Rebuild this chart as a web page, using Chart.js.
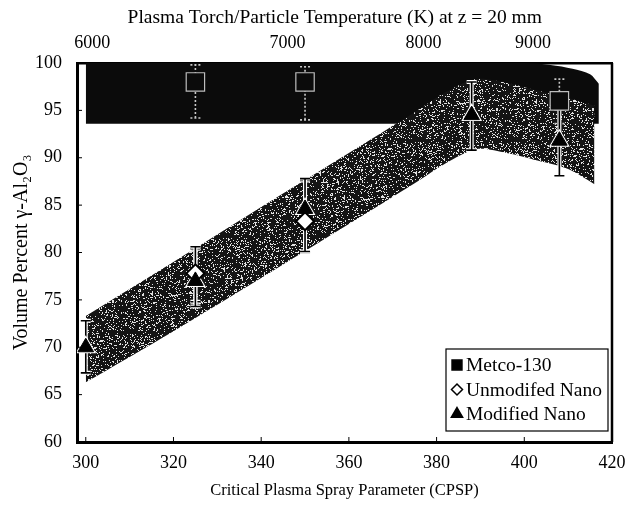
<!DOCTYPE html>
<html>
<head>
<meta charset="utf-8">
<script src="https://cdn.jsdelivr.net/npm/chart.js@4.4.0/dist/chart.umd.min.js"></script>
<style>
  html, body { margin: 0; padding: 0; background: #fff; }
  #wrap { width: 644px; height: 505px; }
</style>
</head>
<body>
<div id="wrap"><canvas id="chart" width="644" height="505"></canvas></div>
<script>
// measured points (CPSP, vol % gamma-Al2O3) with error bar ends
const metcoX = [325, 350, 408];
const metcoY = [98.0, 98.0, 96.0];
const metcoLo = [94.2, 94.0, 93.6];
const metcoHi = [99.8, 99.6, 98.3];

const unmodX = [325, 350];
const unmodY = [77.8, 83.3];
const unmodLo = [74.8, 80.0];
const unmodHi = [80.4, 87.6];

const modX = [300, 325, 350, 388, 408];
const modY = [70.0, 77.0, 84.6, 94.5, 91.8];
const modLo = [67.3, 74.3, 80.1, 90.8, 88.1];
const modHi = [72.8, 80.6, 87.8, 98.0, 95.2];

// shaded bands
const metcoBandX = [300, 400, 406, 411, 415, 417];
const metcoBandHi = [100, 100, 99.8, 99.4, 98.8, 97.8];
const metcoBandLo = [93.6, 93.6, 93.6, 93.6, 93.6, 93.6];

const nanoBandX = [300, 320, 340, 360, 375, 382, 389, 396, 403, 410, 416];
const nanoBandHi = [73.3, 79.0, 84.8, 90.5, 94.8, 96.9, 98.3, 97.9, 97.1, 96.3, 95.5];
const nanoBandLo = [66.3, 71.7, 77.3, 83.0, 87.3, 89.4, 90.9, 90.5, 89.7, 88.8, 87.2];

// axes
const xTicks = [300, 320, 340, 360, 380, 400, 420];
const yTicks = [60, 65, 70, 75, 80, 85, 90, 95, 100];
const tempTickPos = [301.5, 346, 377, 402];
const tempTickLabels = ['6000', '7000', '8000', '9000'];

const serif = "'Liberation Serif', 'DejaVu Serif', serif";
const pts = (xs, ys) => xs.map((x, i) => ({ x: x, y: ys[i] }));

const canvas = document.getElementById('chart');
const ctx = canvas.getContext('2d');

// speckled grey texture like the scanned band
function speckle() {
  const n = 96;
  const c = document.createElement('canvas');
  c.width = n; c.height = n;
  const g = c.getContext('2d');
  const img = g.createImageData(n, n);
  for (let j = 0; j < n; j++) {
    for (let i = 0; i < n; i++) {
      let h = Math.sin(i * 12.9898 + j * 78.233) * 43758.5453;
      const v = h - Math.floor(h);
      h = Math.sin(Math.floor(i / 3) * 7.13 + j * 31.7) * 9631.77;
      const s = h - Math.floor(h);
      const light = v < 0.12 || (s < 0.13 && v < 0.5);
      const c0 = light ? 225 : 20;
      const k = (j * n + i) * 4;
      img.data[k] = c0; img.data[k + 1] = c0; img.data[k + 2] = c0; img.data[k + 3] = 255;
    }
  }
  g.putImageData(img, 0, 0);
  return ctx.createPattern(c, 'repeat');
}

function bar(c, px, y1, y2) {
  c.beginPath();
  c.moveTo(px, y1); c.lineTo(px, y2);
  c.moveTo(px - 5, y1); c.lineTo(px + 5, y1);
  c.moveTo(px - 5, y2); c.lineTo(px + 5, y2);
  c.stroke();
}

const errorBars = {
  id: 'errorBars',
  beforeDatasetDraw(chart, args) {
    if (args.index !== 4) return;
    const c = chart.ctx, xs = chart.scales.x, ys = chart.scales.y;
    const sets = [
      [metcoX, metcoLo, metcoHi, '#c8c8c8', [2, 2], false],
      [unmodX, unmodLo, unmodHi, '#000', [], true],
      [modX, modLo, modHi, '#000', [], true]
    ];
    c.save();
    sets.forEach(([xv, lo, hi, col, dash, halo]) => {
      xv.forEach((x, i) => {
        const px = xs.getPixelForValue(x);
        const y1 = ys.getPixelForValue(lo[i]);
        const y2 = ys.getPixelForValue(hi[i]);
        if (halo) {
          c.setLineDash([]);
          c.strokeStyle = '#fff';
          c.lineWidth = 4;
          bar(c, px, y1, y2);
        }
        c.setLineDash(dash);
        c.strokeStyle = col;
        c.lineWidth = 1.6;
        bar(c, px, y1, y2);
      });
    });
    c.restore();
  },
  afterDraw(chart) {
    const c = chart.ctx, a = chart.chartArea;
    const xs = chart.scales.x, ys = chart.scales.y;
    c.save();
    // frame right side
    c.strokeStyle = '#000';
    c.lineWidth = 2.5;
    c.beginPath();
    c.moveTo(a.right, a.top); c.lineTo(a.right, a.bottom);
    c.stroke();
    // small inward ticks
    c.lineWidth = 1;
    yTicks.forEach(v => {
      const py = ys.getPixelForValue(v);
      c.beginPath(); c.moveTo(a.left, py); c.lineTo(a.left + 5, py); c.stroke();
    });
    xTicks.forEach(v => {
      const px = xs.getPixelForValue(v);
      c.beginPath(); c.moveTo(px, a.bottom); c.lineTo(px, a.bottom - 5); c.stroke();
    });
    // legend box
    const w = 162, h = 82;
    const bx = a.right - 4 - w, by = a.bottom - 11 - h;
    c.fillStyle = '#fff';
    c.fillRect(bx, by, w, h);
    c.lineWidth = 1.2;
    c.strokeRect(bx, by, w, h);
    c.font = '19.5px ' + serif;
    c.textBaseline = 'middle';
    [4, 5, 6].forEach((di, k) => {
      const ds = chart.data.datasets[di];
      const cy = by + 16 + k * 24.5;
      c.fillStyle = ds.legendFill;
      c.strokeStyle = '#000';
      c.lineWidth = 1.5;
      Chart.helpers.drawPoint(c, { pointStyle: ds.pointStyle, radius: ds.legendRadius, rotation: 0, borderWidth: 1.5 }, bx + 11, cy);
      c.fillStyle = '#000';
      c.fillText(ds.label, bx + 20, cy + 1);
    });
    c.restore();
  }
};

const band = speckle();

new Chart(ctx, {
  type: 'line',
  data: {
    datasets: [
      { label: 'metco band lo', data: pts(metcoBandX, metcoBandLo), borderWidth: 0, pointRadius: 0, fill: false, tension: 0.3, order: 13 },
      { label: 'metco band hi', data: pts(metcoBandX, metcoBandHi), borderWidth: 0, pointRadius: 0, fill: '-1', backgroundColor: '#0b0b0b', tension: 0.3, order: 12 },
      { label: 'nano band lo', data: pts(nanoBandX, nanoBandLo), borderWidth: 0, pointRadius: 0, fill: false, tension: 0.3, order: 11 },
      { label: 'nano band hi', data: pts(nanoBandX, nanoBandHi), borderWidth: 0, pointRadius: 0, fill: '-1', backgroundColor: band, tension: 0.3, order: 10 },
      { label: 'Metco-130', data: pts(metcoX, metcoY), showLine: false, pointStyle: 'rect', pointRadius: 13, backgroundColor: '#0b0b0b', borderColor: '#bdbdbd', borderWidth: 1.2, legendFill: '#000', legendRadius: 7, order: 3 },
      { label: 'Unmodifed Nano', data: pts(unmodX, unmodY), showLine: false, pointStyle: 'rectRot', pointRadius: 9, backgroundColor: '#fff', borderColor: '#000', borderWidth: 2, legendFill: '#fff', legendRadius: 5.5, order: 2 },
      { label: 'Modified Nano', data: pts(modX, modY), showLine: false, pointStyle: 'triangle', pointRadius: 9, backgroundColor: '#000', borderColor: '#000', borderWidth: 1, legendFill: '#000', legendRadius: 6.5, order: 1 },
      { label: 'halo', data: pts(modX, modY), showLine: false, pointStyle: 'triangle', pointRadius: 12, backgroundColor: '#fff', borderColor: '#fff', borderWidth: 0, order: 2.5 }
    ]
  },
  options: {
    responsive: false,
    animation: false,
    layout: { padding: { left: 0, right: 32, top: 0, bottom: 0 } },
    plugins: {
      legend: { display: false },
      tooltip: { enabled: false }
    },
    scales: {
      x: {
        type: 'linear', position: 'bottom', min: 298, max: 420,
        afterBuildTicks: s => { s.ticks = xTicks.map(v => ({ value: v })); },
        afterFit: s => { s.height = 63; },
        ticks: { color: '#000', font: { family: serif, size: 18 }, padding: 10, maxRotation: 0, autoSkip: false },
        grid: { display: false, drawTicks: false },
        border: { color: '#000', width: 3 },
        title: { display: true, text: 'Critical Plasma Spray Parameter (CPSP)', color: '#000', font: { family: serif, size: 16.5 }, padding: { top: 0, bottom: 4 } }
      },
      x2: {
        type: 'linear', position: 'top', min: 298, max: 420,
        afterBuildTicks: s => { s.ticks = tempTickPos.map(v => ({ value: v })); },
        afterFit: s => { s.height = 63; },
        ticks: { color: '#000', font: { family: serif, size: 18 }, padding: 9, maxRotation: 0, autoSkip: false,
          callback: (v, i) => tempTickLabels[i] },
        grid: { display: false, drawTicks: false },
        border: { color: '#000', width: 2.5 },
        title: { display: true, text: 'Plasma Torch/Particle Temperature (K) at z = 20 mm\u00a0\u00a0\u00a0\u00a0', color: '#000', font: { family: serif, size: 19.5 }, padding: { top: 6, bottom: 0 } }
      },
      y: {
        type: 'linear', position: 'left', min: 60, max: 100,
        afterBuildTicks: s => { s.ticks = yTicks.map(v => ({ value: v })); },
        afterFit: s => { s.width = 77; },
        ticks: { color: '#000', font: { family: serif, size: 18 }, padding: 15 },
        grid: { display: false, drawTicks: false },
        border: { color: '#000', width: 3 },
        title: { display: true, text: 'Volume Percent γ-Al₂O₃', color: '#000', font: { family: serif, size: 20 }, padding: { top: 10, bottom: 0 } }
      }
    }
  },
  plugins: [errorBars]
});
</script>
</body>
</html>
